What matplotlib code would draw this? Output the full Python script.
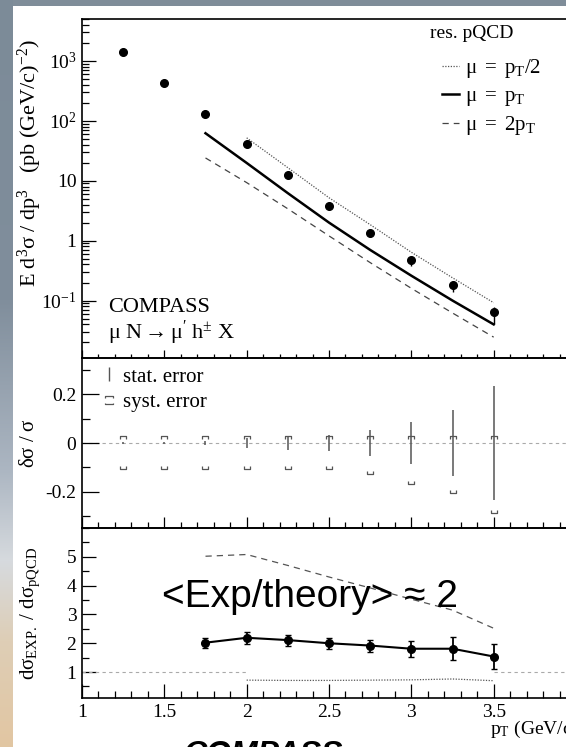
import numpy as np
import matplotlib
matplotlib.use("Agg")
import matplotlib.pyplot as plt
from matplotlib.path import Path
from matplotlib.lines import Line2D
from matplotlib.ticker import MultipleLocator, FixedLocator, LogLocator, NullFormatter

plt.rcParams['font.family'] = ['Liberation Serif', 'DejaVu Serif']
plt.rcParams['mathtext.fontset'] = 'custom'
plt.rcParams['mathtext.rm'] = 'Liberation Serif'
plt.rcParams['mathtext.it'] = 'Liberation Serif:italic'
plt.rcParams['mathtext.bf'] = 'Liberation Serif:bold'
plt.rcParams['axes.unicode_minus'] = False

# --> measured cross section (COMPASS, mu N -> mu' h+- X)
pt = [1.25, 1.5, 1.75, 2.0, 2.25, 2.5, 2.75, 3.0, 3.25, 3.5]
xsec = [1430, 424, 131, 41, 12.3, 3.8, 1.35, 0.47, 0.185, 0.064]
stat_rel = [0.004, 0.005, 0.008, 0.02, 0.028, 0.033, 0.054, 0.085, 0.136, 0.234]
syst_up = [0.027, 0.027, 0.027, 0.027, 0.027, 0.027, 0.027, 0.027, 0.027, 0.027]
syst_dn = [0.107, 0.107, 0.107, 0.107, 0.107, 0.107, 0.128, 0.17, 0.207, 0.287]

# --> resummed pQCD for three scale choices
pt_th = [1.75, 2.0, 2.25, 2.5, 2.75, 3.0, 3.25, 3.5]
th_mu_pt = [62, 19.8, 6.2, 2.0, 0.70, 0.26, 0.10, 0.040]
th_mu_2pt = [24, 9.3, 3.4, 1.2, 0.43, 0.16, 0.062, 0.0245]
pt_half = [2.0, 2.25, 2.5, 2.75, 3.0, 3.25, 3.5]
th_mu_half = [52, 16.5, 5.2, 1.85, 0.64, 0.24, 0.092]

# --> data / theory
ratio = [2.02, 2.19, 2.11, 2.0, 1.92, 1.81, 1.81, 1.54]
ratio_err = [0.17, 0.2, 0.19, 0.19, 0.21, 0.27, 0.39, 0.45]
ratio_2pt = [5.02, 5.08, 4.7, 4.3, 3.92, 3.53, 3.15, 2.52]
ratio_half = [0.72, 0.71, 0.71, 0.72, 0.73, 0.76, 0.70]

ytick_vals = [0.1, 1, 10, 100, 1000]
ytick_labels = [r'$\mathrm{10^{-1}}$', '1', '10', r'$\mathrm{10^{2}}$', r'$\mathrm{10^{3}}$']
xtick_vals = [1, 1.5, 2, 2.5, 3, 3.5]
xtick_labels = ['1', '1.5', '2', '2.5', '3', '3.5']
ratio_ticks = [1, 2, 3, 4, 5]

W, H = 566, 747


def fx(x):
    return x / W


def fy(y):
    return 1 - y / H


def px_box(x0, y0, x1, y1):
    return [x0 / W, 1 - y1 / H, (x1 - x0) / W, (y1 - y0) / H]


fig = plt.figure(figsize=(W / 100, H / 100), dpi=100)

# --> slide background: grey-blue frame, colour gradient on the left edge
bg = fig.add_axes([0, 0, 1, 1], zorder=-10)
img = np.ones((H, W, 3))
img[:, :] = np.array([127, 141, 153]) / 255
img[6:, 13:] = 1.0
rows = np.arange(H)
stops = [0, 300, 470, 560, 640, 747]
cols = np.array([(124, 139, 152), (128, 142, 156), (172, 182, 194),
                 (214, 218, 222), (222, 206, 182), (226, 198, 162)]) / 255
for c in range(3):
    img[:, :13, c] = np.interp(rows, stops, cols[:, c])[:, None]
bg.imshow(img, extent=(0, W, H, 0), aspect='auto', interpolation='bilinear')
bg.set_xlim(0, W)
bg.set_ylim(H, 0)
bg.set_axis_off()

ax1 = fig.add_axes(px_box(82, 19, 576, 358))
ax2 = fig.add_axes(px_box(82, 358, 576, 528))
ax3 = fig.add_axes(px_box(82, 528, 576, 698))

for ax in (ax1, ax2, ax3):
    ax.set_facecolor('none')
    ax.set_xlim(1, 4)
    ax.xaxis.set_major_locator(MultipleLocator(0.5))
    ax.xaxis.set_minor_locator(MultipleLocator(0.1))
    for s in ax.spines.values():
        s.set_linewidth(1.2)
    ax.tick_params(which='both', direction='in', top=False, right=False,
                   width=0.9, labelsize=14, pad=4)

# ---- top panel: cross section
tot_up = np.sqrt(np.array(stat_rel) ** 2 + np.array(syst_up) ** 2)
tot_dn = np.sqrt(np.array(stat_rel) ** 2 + np.array(syst_dn) ** 2)
xs = np.array(xsec)
ax1.errorbar(pt, xs, yerr=[xs * tot_dn, xs * tot_up], fmt='o', color='black',
             ms=5.5, elinewidth=1.0, capsize=0, zorder=5)
l_half, = ax1.plot(pt_half, th_mu_half, color='#555555', lw=0.9, ls=(0, (1, 1.2)))
l_pt, = ax1.plot(pt_th, th_mu_pt, color='black', lw=1.8)
l_2pt, = ax1.plot(pt_th, th_mu_2pt, color='#444444', lw=0.9, ls=(0, (5, 4)))

ax1.set_yscale('log')
ax1.set_ylim(0.011, 5000)
ax1.yaxis.set_major_locator(FixedLocator(ytick_vals))
ax1.set_yticklabels(ytick_labels)
ax1.yaxis.set_minor_locator(LogLocator(base=10, subs=np.arange(2, 10)))
ax1.yaxis.set_minor_formatter(NullFormatter())
ax1.tick_params(axis='y', which='major', length=10)
ax1.tick_params(axis='y', which='minor', length=5)
ax1.tick_params(axis='x', which='major', length=6, labelbottom=False)
ax1.tick_params(axis='x', which='minor', length=3)

fig.text(fx(30), fy(163), r'$\mathrm{E\ d^{3}\sigma\ /\ dp^{3}\ \ \ (pb\ (GeV/c)^{-2})}$',
         rotation=90, ha='center', va='center', fontsize=16)
fig.text(fx(430), fy(33), 'res. pQCD', ha='left', va='center', fontsize=14)
ax1.legend([l_half, l_pt, l_2pt],
           [r'$\mathrm{\mu\ =\ p_{T}/2}$', r'$\mathrm{\mu\ =\ p_{T}}$', r'$\mathrm{\mu\ =\ 2p_{T}}$'],
           loc='upper left', bbox_to_anchor=(fx(442), fy(57)), bbox_transform=fig.transFigure,
           frameon=False, fontsize=15, handlelength=0.8, handletextpad=0.3,
           borderpad=0, borderaxespad=0, labelspacing=0.3)
fig.text(fx(108), fy(308), 'COMPASS', ha='left', va='center', fontsize=16)
fig.text(fx(108), fy(333), r"$\mathrm{\mu\ N \rightarrow \mu'\ h^{\pm}\ X}$",
         ha='left', va='center', fontsize=16)

# ---- middle panel: relative uncertainties
up_bracket = Path([(-1, -0.8), (-1, 0), (1, 0), (1, -0.8)],
                  [Path.MOVETO, Path.LINETO, Path.LINETO, Path.LINETO])
dn_bracket = Path([(-1, 0.8), (-1, 0), (1, 0), (1, 0.8)],
                  [Path.MOVETO, Path.LINETO, Path.LINETO, Path.LINETO])
box_bracket = Path([(-1, 0.6), (-1, 1), (1, 1), (1, 0.6), (-1, -0.6), (-1, -1), (1, -1), (1, -0.6)],
                   [Path.MOVETO, Path.LINETO, Path.LINETO, Path.LINETO,
                    Path.MOVETO, Path.LINETO, Path.LINETO, Path.LINETO])

ax2.axhline(0, color='#aaaaaa', lw=0.8, ls=(0, (3, 3)), zorder=1)
ax2.errorbar(pt, np.zeros(len(pt)), yerr=stat_rel, fmt='none', ecolor='#555555',
             elinewidth=1.1, capsize=0, zorder=3)
ax2.plot(pt, syst_up, ls='none', marker=up_bracket, ms=5, mfc='none', mec='#555555', mew=0.9)
ax2.plot(pt, -np.array(syst_dn), ls='none', marker=dn_bracket, ms=5, mfc='none', mec='#555555', mew=0.9)
ax2.set_ylim(-0.35, 0.35)
ax2.yaxis.set_major_locator(FixedLocator([-0.2, 0, 0.2]))
ax2.set_yticklabels(['-0.2', '0', '0.2'])
ax2.yaxis.set_minor_locator(FixedLocator([-0.3, -0.1, 0.1, 0.3]))
ax2.tick_params(axis='y', which='major', length=12)
ax2.tick_params(axis='y', which='minor', length=6)
ax2.tick_params(axis='x', which='major', length=8, labelbottom=False)
ax2.tick_params(axis='x', which='minor', length=4)

h_stat = Line2D([], [], ls='none', marker='|', color='#555555', ms=10, mew=1.0)
h_syst = Line2D([], [], ls='none', marker=box_bracket, mfc='none', mec='#555555', ms=6, mew=0.9)
ax2.legend([h_stat, h_syst], ['stat. error', 'syst. error'],
           loc='upper left', bbox_to_anchor=(fx(104), fy(367)), bbox_transform=fig.transFigure,
           frameon=False, fontsize=15, handlelength=0.5, handletextpad=0.4,
           borderpad=0, borderaxespad=0, labelspacing=0.3)
fig.text(fx(30), fy(443), r'$\mathrm{\delta\sigma\ /\ \sigma}$', rotation=90,
         ha='center', va='center', fontsize=15)

# ---- bottom panel: data / pQCD
ax3.plot([1, 2], [1, 1], color='#aaaaaa', lw=0.8, ls=(0, (3, 3)))
ax3.plot([3.5, 4], [1, 1], color='#aaaaaa', lw=0.8, ls=(0, (3, 3)))
ax3.plot(pt_th, ratio_2pt, color='#555555', lw=0.9, ls=(0, (5, 4)))
ax3.plot(pt_half, ratio_half, color='#555555', lw=0.9, ls=(0, (1, 1.2)))
ax3.errorbar(pt_th, ratio, yerr=ratio_err, fmt='o-', color='black', ms=5.5, lw=1.5,
             elinewidth=1.3, capsize=2.5, capthick=1.0, zorder=5)
ax3.set_ylim(0.1, 6)
ax3.yaxis.set_major_locator(FixedLocator(ratio_ticks))
ax3.yaxis.set_minor_locator(MultipleLocator(0.5))
ax3.set_xticks(xtick_vals)
ax3.set_xticklabels(xtick_labels)
ax3.tick_params(axis='y', which='major', length=10)
ax3.tick_params(axis='y', which='minor', length=5)
ax3.tick_params(axis='x', which='major', length=10)
ax3.tick_params(axis='x', which='minor', length=5)
fig.text(fx(30), fy(613), r'$\mathrm{d\sigma_{EXP.}\ /\ d\sigma_{pQCD}}$', rotation=90,
         ha='center', va='center', fontsize=15)
fig.text(fx(490), fy(729), r'$\mathrm{p_{T}}$ (GeV/c)', ha='left', va='center', fontsize=14)

fig.text(fx(162), fy(607), '<Exp/theory> \u2248 2', family=['Liberation Sans', 'DejaVu Sans'],
         ha='left', va='baseline', fontsize=28)

# slide caption running off the bottom edge
fig.text(fx(183), fy(763), 'COMPASS', family=['Liberation Sans', 'DejaVu Sans'],
         fontweight='bold', fontstyle='italic', ha='left', va='baseline', fontsize=23)

fig.savefig('out.png', dpi=100)
